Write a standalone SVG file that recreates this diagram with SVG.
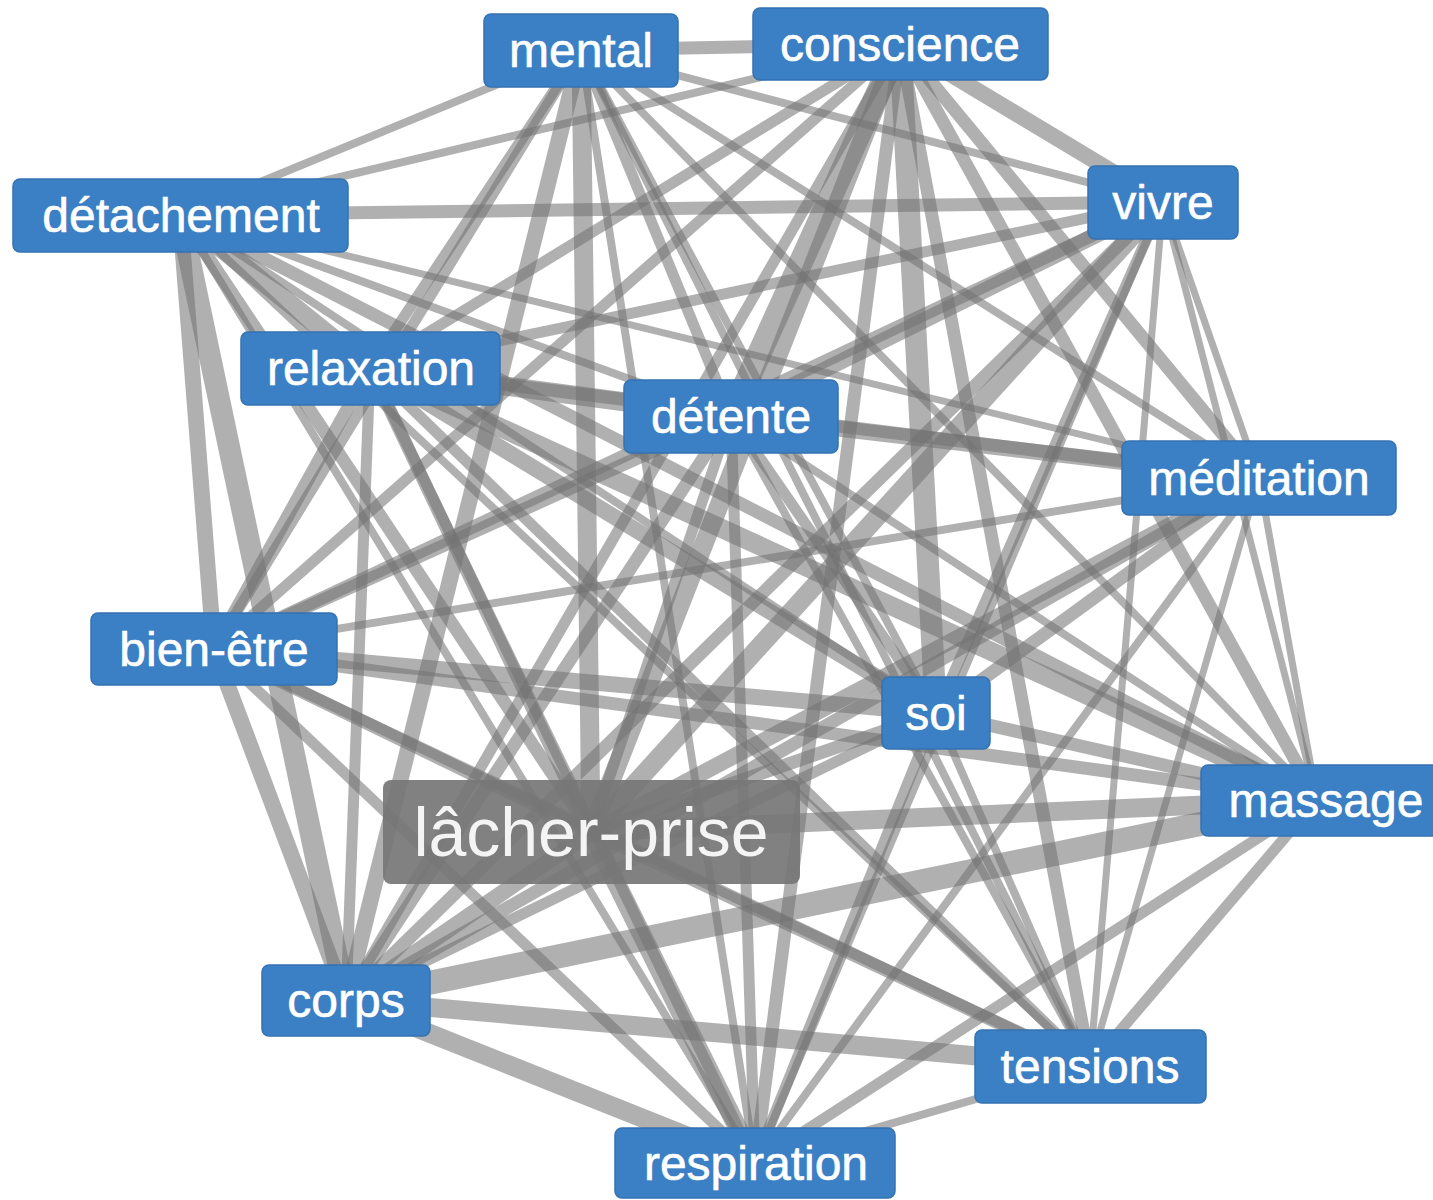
<svg xmlns="http://www.w3.org/2000/svg" width="1433" height="1200" viewBox="0 0 1433 1200">
<style>
.e line{stroke:#727272;stroke-opacity:0.56;}
.n rect{fill:#3b7fc4;stroke:#3573b3;stroke-width:1.5;}
.n text{fill:#fff;font-family:"Liberation Sans",Arial,sans-serif;font-size:48px;text-anchor:middle;stroke:#fff;stroke-width:0.6;}
#n-lacher rect{fill:#767676;fill-opacity:0.92;stroke:none;}
#n-lacher text{font-size:68px;fill:#f4f4f4;stroke:none;}
</style>
<rect width="1433" height="1200" fill="#fff"/>
<g id="edges" class="e">
<!-- mental (581,50) -->
<line x1="581" y1="50" x2="900" y2="44" stroke-width="13"/>
<line x1="581" y1="50" x2="1163" y2="202" stroke-width="8"/>
<line x1="581" y1="50" x2="180" y2="215" stroke-width="8"/>
<line x1="581" y1="50" x2="370" y2="368" stroke-width="11"/>
<line x1="581" y1="50" x2="731" y2="416" stroke-width="11"/>
<line x1="581" y1="50" x2="1259" y2="478" stroke-width="8"/>
<line x1="581" y1="50" x2="214" y2="649" stroke-width="11"/>
<line x1="581" y1="50" x2="936" y2="713" stroke-width="8"/>
<line x1="581" y1="50" x2="1317" y2="800" stroke-width="8"/>
<line x1="581" y1="50" x2="591" y2="832" stroke-width="19"/>
<line x1="581" y1="50" x2="346" y2="1000" stroke-width="16"/>
<line x1="581" y1="50" x2="1090" y2="1066" stroke-width="8"/>
<line x1="581" y1="50" x2="755" y2="1163" stroke-width="8"/>
<!-- conscience (900,44) -->
<line x1="900" y1="44" x2="1163" y2="202" stroke-width="16"/>
<line x1="900" y1="44" x2="180" y2="215" stroke-width="8"/>
<line x1="900" y1="44" x2="370" y2="368" stroke-width="11"/>
<line x1="900" y1="44" x2="731" y2="416" stroke-width="24"/>
<line x1="900" y1="44" x2="1259" y2="478" stroke-width="13"/>
<line x1="900" y1="44" x2="214" y2="649" stroke-width="11"/>
<line x1="900" y1="44" x2="936" y2="713" stroke-width="22"/>
<line x1="900" y1="44" x2="1317" y2="800" stroke-width="13"/>
<line x1="900" y1="44" x2="591" y2="832" stroke-width="19"/>
<line x1="900" y1="44" x2="346" y2="1000" stroke-width="11"/>
<line x1="900" y1="44" x2="1090" y2="1066" stroke-width="13"/>
<line x1="900" y1="44" x2="755" y2="1163" stroke-width="13"/>
<!-- vivre (1163,202) -->
<line x1="1163" y1="202" x2="180" y2="215" stroke-width="13"/>
<line x1="1163" y1="202" x2="370" y2="368" stroke-width="11"/>
<line x1="1163" y1="202" x2="731" y2="416" stroke-width="16"/>
<line x1="1163" y1="202" x2="1259" y2="478" stroke-width="7"/>
<line x1="1163" y1="202" x2="214" y2="649" stroke-width="13"/>
<line x1="1163" y1="202" x2="936" y2="713" stroke-width="11"/>
<line x1="1163" y1="202" x2="1317" y2="800" stroke-width="7"/>
<line x1="1163" y1="202" x2="591" y2="832" stroke-width="19"/>
<line x1="1163" y1="202" x2="346" y2="1000" stroke-width="13"/>
<line x1="1163" y1="202" x2="1090" y2="1066" stroke-width="7"/>
<line x1="1163" y1="202" x2="755" y2="1163" stroke-width="8"/>
<!-- détachement (180,215) -->
<line x1="180" y1="215" x2="370" y2="368" stroke-width="19"/>
<line x1="180" y1="215" x2="731" y2="416" stroke-width="8"/>
<line x1="180" y1="215" x2="1259" y2="478" stroke-width="7"/>
<line x1="180" y1="215" x2="214" y2="649" stroke-width="16"/>
<line x1="180" y1="215" x2="936" y2="713" stroke-width="8"/>
<line x1="180" y1="215" x2="1317" y2="800" stroke-width="13"/>
<line x1="180" y1="215" x2="591" y2="832" stroke-width="13"/>
<line x1="180" y1="215" x2="346" y2="1000" stroke-width="22"/>
<line x1="180" y1="215" x2="1090" y2="1066" stroke-width="8"/>
<line x1="180" y1="215" x2="755" y2="1163" stroke-width="8"/>
<!-- relaxation (370,368) -->
<line x1="370" y1="368" x2="731" y2="416" stroke-width="19"/>
<line x1="370" y1="368" x2="1259" y2="478" stroke-width="13"/>
<line x1="370" y1="368" x2="214" y2="649" stroke-width="13"/>
<line x1="370" y1="368" x2="936" y2="713" stroke-width="16"/>
<line x1="370" y1="368" x2="1317" y2="800" stroke-width="19"/>
<line x1="370" y1="368" x2="591" y2="832" stroke-width="13"/>
<line x1="370" y1="368" x2="346" y2="1000" stroke-width="11"/>
<line x1="370" y1="368" x2="1090" y2="1066" stroke-width="11"/>
<line x1="370" y1="368" x2="755" y2="1163" stroke-width="11"/>
<!-- détente (731,416) -->
<line x1="731" y1="416" x2="1259" y2="478" stroke-width="16"/>
<line x1="731" y1="416" x2="214" y2="649" stroke-width="13"/>
<line x1="731" y1="416" x2="936" y2="713" stroke-width="11"/>
<line x1="731" y1="416" x2="1317" y2="800" stroke-width="8"/>
<line x1="731" y1="416" x2="591" y2="832" stroke-width="11"/>
<line x1="731" y1="416" x2="346" y2="1000" stroke-width="13"/>
<line x1="731" y1="416" x2="1090" y2="1066" stroke-width="8"/>
<line x1="731" y1="416" x2="755" y2="1163" stroke-width="11"/>
<!-- méditation (1259,478) -->
<line x1="1259" y1="478" x2="214" y2="649" stroke-width="8"/>
<line x1="1259" y1="478" x2="936" y2="713" stroke-width="13"/>
<line x1="1259" y1="478" x2="1317" y2="800" stroke-width="7"/>
<line x1="1259" y1="478" x2="591" y2="832" stroke-width="16"/>
<line x1="1259" y1="478" x2="346" y2="1000" stroke-width="13"/>
<line x1="1259" y1="478" x2="1090" y2="1066" stroke-width="7"/>
<line x1="1259" y1="478" x2="755" y2="1163" stroke-width="8"/>
<!-- bien-être (214,649) -->
<line x1="214" y1="649" x2="936" y2="713" stroke-width="16"/>
<line x1="214" y1="649" x2="1317" y2="800" stroke-width="13"/>
<line x1="214" y1="649" x2="591" y2="832" stroke-width="13"/>
<line x1="214" y1="649" x2="346" y2="1000" stroke-width="16"/>
<line x1="214" y1="649" x2="1090" y2="1066" stroke-width="11"/>
<line x1="214" y1="649" x2="755" y2="1163" stroke-width="11"/>
<!-- soi (936,713) -->
<line x1="936" y1="713" x2="1317" y2="800" stroke-width="13"/>
<line x1="936" y1="713" x2="591" y2="832" stroke-width="13"/>
<line x1="936" y1="713" x2="346" y2="1000" stroke-width="11"/>
<line x1="936" y1="713" x2="1090" y2="1066" stroke-width="8"/>
<line x1="936" y1="713" x2="755" y2="1163" stroke-width="11"/>
<!-- massage (1317,800) -->
<line x1="1317" y1="800" x2="591" y2="832" stroke-width="19"/>
<line x1="1317" y1="800" x2="346" y2="1000" stroke-width="24"/>
<line x1="1317" y1="800" x2="1090" y2="1066" stroke-width="11"/>
<line x1="1317" y1="800" x2="755" y2="1163" stroke-width="11"/>
<!-- lâcher-prise (591,832) -->
<line x1="591" y1="832" x2="346" y2="1000" stroke-width="16"/>
<line x1="591" y1="832" x2="1090" y2="1066" stroke-width="13"/>
<line x1="591" y1="832" x2="755" y2="1163" stroke-width="19"/>
<!-- corps (346,1000) -->
<line x1="346" y1="1000" x2="1090" y2="1066" stroke-width="19"/>
<line x1="346" y1="1000" x2="755" y2="1163" stroke-width="19"/>
<!-- tensions (1090,1066) -->
<line x1="1090" y1="1066" x2="755" y2="1163" stroke-width="8"/>
</g>
<g id="n-mental" class="n"><rect x="484" y="14" width="194" height="73" rx="7"/><text x="581" y="67">mental</text></g>
<g id="n-conscience" class="n"><rect x="753" y="8" width="295" height="72" rx="7"/><text x="900" y="61">conscience</text></g>
<g id="n-vivre" class="n"><rect x="1088" y="166" width="150" height="73" rx="7"/><text x="1163" y="219">vivre</text></g>
<g id="n-detachement" class="n"><rect x="13" y="179" width="335" height="73" rx="7"/><text x="181" y="232">détachement</text></g>
<g id="n-relaxation" class="n"><rect x="241" y="332" width="259" height="73" rx="7"/><text x="371" y="385">relaxation</text></g>
<g id="n-detente" class="n"><rect x="624" y="380" width="214" height="73" rx="7"/><text x="731" y="433">détente</text></g>
<g id="n-meditation" class="n"><rect x="1122" y="441" width="274" height="74" rx="7"/><text x="1259" y="495">méditation</text></g>
<g id="n-bienetre" class="n"><rect x="91" y="613" width="246" height="72" rx="7"/><text x="214" y="666">bien-être</text></g>
<g id="n-soi" class="n"><rect x="882" y="677" width="108" height="72" rx="7"/><text x="936" y="730">soi</text></g>
<g id="n-massage" class="n"><rect x="1201" y="765" width="240" height="71" rx="7"/><text x="1326" y="817">massage</text></g>
<g id="n-lacher" class="n"><rect x="383" y="780" width="417" height="104" rx="8"/><text x="591" y="856">lâcher-prise</text></g>
<g id="n-corps" class="n"><rect x="262" y="965" width="168" height="71" rx="7"/><text x="346" y="1017">corps</text></g>
<g id="n-tensions" class="n"><rect x="975" y="1030" width="231" height="73" rx="7"/><text x="1090" y="1083">tensions</text></g>
<g id="n-respiration" class="n"><rect x="615" y="1128" width="280" height="70" rx="7"/><text x="756" y="1180">respiration</text></g>
</svg>
